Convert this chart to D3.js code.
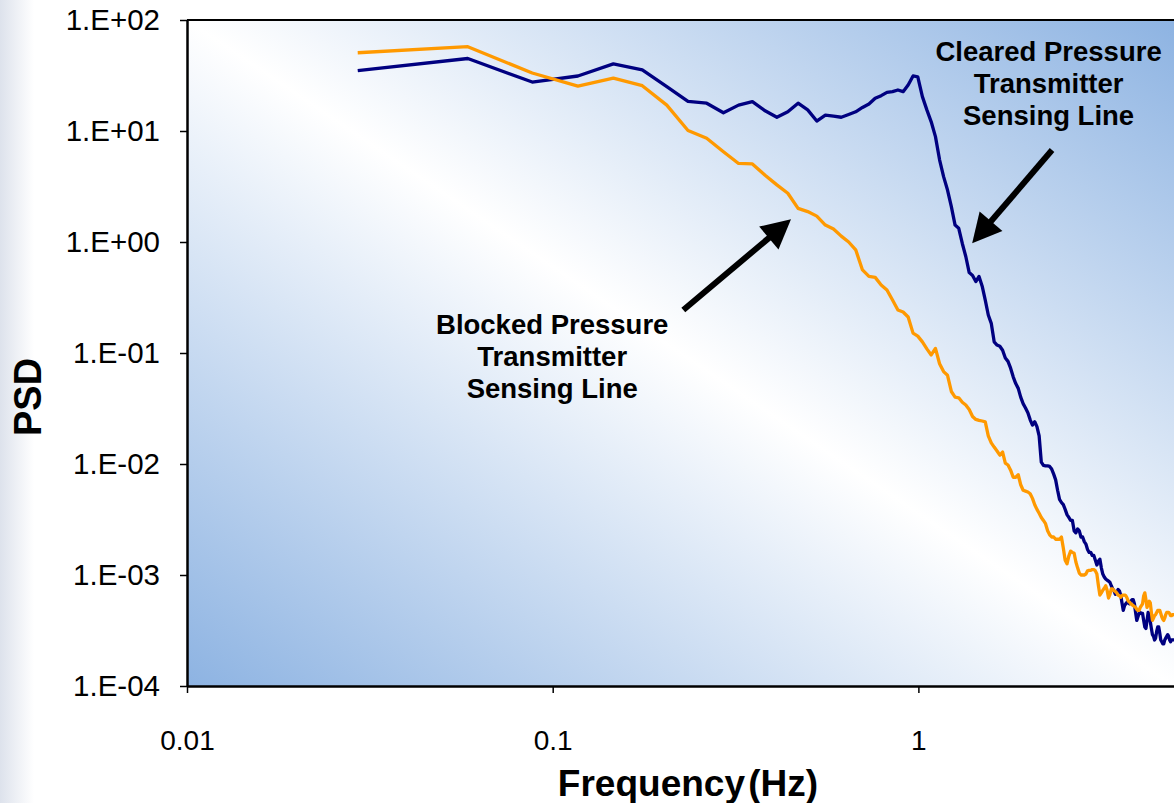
<!DOCTYPE html>
<html>
<head>
<meta charset="utf-8">
<script src="https://cdnjs.cloudflare.com/ajax/libs/d3/7.8.5/d3.min.js"></script>
<style>
  body{margin:0;background:#fff;}
  svg{display:block;font-family:"Liberation Sans",Arial,sans-serif;}
</style>
</head>
<body>
<svg id="chart" width="1174" height="803"></svg>
<script>
// frequency bin width of the PSD (Hz)
const df = 0.0293

// cleared line PSD, one value per bin (k = 1..171)
const cleared = [
  35,45,27.6,31.3,40.2,35.5,25.1,18.5,17.8,14.6,
  17.1,18.4,15.2,13.3,14.9,17.8,15.5,12.3,13.9,13.6,
  13.3,14.1,14.9,16.3,17.5,19.7,20.8,22.3,22.6,23.4,
  22.6,26.0,31.3,30.8,20.4,15.5,12.1,8.9,5.5,3.88,
  2.94,2.08,1.42,1.33,0.97,0.74,0.53,0.50,0.44,0.49,
  0.40,0.30,0.22,0.185,0.126,0.118,0.115,0.106,0.090,0.084,
  0.073,0.061,0.053,0.048,0.040,0.035,0.032,0.029,0.025,0.0224,
  0.024,0.0217,0.0179,0.0104,0.0097,0.0096,0.0096,0.0095,0.0090,0.0081,
  0.0072,0.0058,0.0048,0.0045,0.0043,0.0039,0.0035,0.0033,0.0031,0.0031,
  0.0025,0.0024,0.0026,0.0025,0.0022,0.0022,0.0020,0.0019,0.0017,0.0016,
  0.0016,0.0015,0.0015,0.00136,0.00123,0.00133,0.00139,0.00116,0.00102,0.00096,
  0.00092,0.00090,0.00088,0.00086,0.00080,0.00075,0.00072,0.00067,0.00070,0.00074,
  0.00072,0.00066,0.00056,0.00048,0.00053,0.00055,0.00057,0.00056,0.00055,0.00058,
  0.00060,0.00060,0.00055,0.00046,0.00039,0.00042,0.00045,0.00046,0.00045,0.00045,
  0.00039,0.00034,0.00033,0.00039,0.00046,0.00044,0.00038,0.00033,0.00029,0.00028,
  0.00026,0.00027,0.00031,0.00034,0.00034,0.00030,0.00026,0.00025,0.00024,0.00024,
  0.00026,0.00027,0.00028,0.00029,0.00028,0.00026,0.00025,0.00026,0.00026,0.00026,
  0.00026
]

// blocked line PSD
const blocked = [
  50.7,57.5,33.3,25.4,30.0,25.6,17.1,10.1,8.6,6.5,
  5.1,5.05,4.0,3.27,2.75,2.01,1.88,1.71,1.42,1.31,
  1.13,1.0,0.85,0.56,0.49,0.48,0.41,0.37,0.30,0.244,
  0.234,0.211,0.151,0.142,0.126,0.109,0.096,0.110,0.080,0.068,
  0.063,0.045,0.040,0.0395,0.036,0.034,0.031,0.0268,0.0252,0.0247,
  0.0244,0.0240,0.0179,0.0155,0.0142,0.0131,0.0120,0.0128,0.0102,0.0098,
  0.0088,0.0076,0.0076,0.0080,0.0065,0.0058,0.0057,0.0056,0.0054,0.0049,
  0.0043,0.0039,0.0036,0.0033,0.0031,0.0029,0.0025,0.0023,0.0022,0.0022,
  0.0021,0.0021,0.0021,0.0022,0.00175,0.00136,0.00126,0.00148,0.00164,0.0016,
  0.00157,0.00131,0.00116,0.00104,0.0010,0.0010,0.0010,0.00102,0.00109,0.0011,
  0.0011,0.00112,0.00112,0.00109,0.00102,0.00081,0.00066,0.00069,0.00073,0.00076,
  0.00080,0.00073,0.00062,0.00067,0.00075,0.00075,0.00072,0.00071,0.00069,0.00066,
  0.00065,0.00063,0.00065,0.00066,0.00066,0.00065,0.00062,0.00058,0.00057,0.00055,
  0.00054,0.00053,0.00052,0.00051,0.00049,0.00048,0.00048,0.00051,0.00053,0.00055,
  0.00065,0.00069,0.00060,0.00051,0.00054,0.00058,0.00056,0.00046,0.00039,0.00041,
  0.00043,0.00044,0.00046,0.00048,0.00048,0.00048,0.00045,0.00042,0.00040,0.00039,
  0.00041,0.00044,0.00046,0.00046,0.00046,0.00045,0.00043,0.00043,0.00044,0.00044,
  0.00043
]

const yTicks = [1e2,1e1,1e0,1e-1,1e-2,1e-3,1e-4]
const yTickLabels = ["1.E+02","1.E+01","1.E+00","1.E-01","1.E-02","1.E-03","1.E-04"]
const xTicks = [0.01,0.1,1]
const xTickLabels = ["0.01","0.1","1"]

// annotations: text anchor [freq, psd], arrow tail and tip in data space
const noteText = [
  ["Cleared Pressure","Transmitter","Sensing Line"],
  ["Blocked Pressure","Transmitter","Sensing Line"]
]
const noteAt = [[2.27,42.8],[0.0997,0.148]]
const arrowTail = [[2.32,6.74],[0.2276,0.244]]
const arrowTip = [[1.403,0.973],[0.4484,1.60]]

const W = 1174, H = 803
const plotLeft = 187, plotTop = 20, plotBottom = 686
const svg = d3.select("#chart")

const x = d3.scaleLog().domain([0.01,5]).range([plotLeft,W])
const y = d3.scaleLog().domain([1e-4,1e2]).range([plotBottom,plotTop])

const defs = svg.append("defs")
let bg = defs.append("linearGradient").attr("id","plotbg")
  .attr("x1",0).attr("y1",1).attr("x2",1).attr("y2",0)
bg.append("stop").attr("offset","0").attr("stop-color","#8db3e2")
bg.append("stop").attr("offset","0.5").attr("stop-color","#ffffff")
bg.append("stop").attr("offset","1").attr("stop-color","#8db3e2")

let edge = defs.append("linearGradient").attr("id","edge")
edge.append("stop").attr("offset","0").attr("stop-color","#dde2ec")
edge.append("stop").attr("offset","1").attr("stop-color","#ffffff")

defs.append("clipPath").attr("id","clip").append("rect")
  .attr("x",plotLeft).attr("y",plotTop).attr("width",W-plotLeft).attr("height",plotBottom-plotTop)

// slide edge on the left
svg.append("rect").attr("x",0).attr("y",0).attr("width",34).attr("height",H).attr("fill","url(#edge)")

svg.append("rect")
  .attr("x",plotLeft).attr("y",plotTop)
  .attr("width",W-plotLeft).attr("height",plotBottom-plotTop)
  .attr("fill","url(#plotbg)")

// top border
svg.append("line").attr("x1",plotLeft).attr("x2",W).attr("y1",plotTop).attr("y2",plotTop)
  .attr("stroke","#000").attr("stroke-width",2)

const line = d3.line()
  .x((d,i)=>x(df*(i+1)))
  .y(d=>y(d))

let plot = svg.append("g").attr("clip-path","url(#clip)")
plot.append("path").datum(cleared)
  .attr("d",line).attr("fill","none")
  .attr("stroke","#000080").attr("stroke-width",3.3).attr("stroke-linejoin","round")
plot.append("path").datum(blocked)
  .attr("d",line).attr("fill","none")
  .attr("stroke","#ff9900").attr("stroke-width",3.3).attr("stroke-linejoin","round")

// axes
let yAxis = svg.append("g").attr("transform","translate("+plotLeft+",0)")
  .call(d3.axisLeft(y).tickValues(yTicks).tickFormat((d,i)=>yTickLabels[i])
    .tickSize(7).tickSizeOuter(0).tickPadding(20))
let xAxis = svg.append("g").attr("transform","translate(0,"+plotBottom+")")
  .call(d3.axisBottom(x).tickValues(xTicks).tickFormat((d,i)=>xTickLabels[i])
    .tickSize(7).tickSizeOuter(0).tickPadding(37))

svg.selectAll(".domain").attr("stroke","#000").attr("stroke-width",2.5)
svg.selectAll(".tick line").attr("stroke","#000").attr("stroke-width",1.5)
svg.selectAll(".tick text")
  .attr("fill","#000")
  .style("font-size","28px")
  .style("font-family","'Liberation Sans',Arial,sans-serif")
yAxis.selectAll(".tick text").style("font-size","29.5px")

// axis titles
svg.append("text")
  .attr("transform","translate(41,397) rotate(-90)")
  .attr("text-anchor","middle")
  .style("font-size","38px").style("font-weight","bold")
  .text("PSD")

svg.append("text")
  .attr("x",688).attr("y",796)
  .attr("text-anchor","middle")
  .style("font-size","37px").style("font-weight","bold")
  .style("word-spacing","-7px")
  .text("Frequency (Hz)")

// annotations
noteText.forEach(function(lines,n){
  let t = svg.append("text")
    .attr("text-anchor","middle")
    .style("font-size","27.5px").style("font-weight","bold")
  lines.forEach(function(s,i){
    t.append("tspan")
      .attr("x",x(noteAt[n][0]))
      .attr("y",y(noteAt[n][1]) + i*32)
      .text(s)
  })

  let x0 = x(arrowTail[n][0]), y0 = y(arrowTail[n][1])
  let x1 = x(arrowTip[n][0]), y1 = y(arrowTip[n][1])
  let a = Math.atan2(y1-y0,x1-x0)
  let hl = 29, hw = 15
  let bx = x1 - hl*Math.cos(a), by = y1 - hl*Math.sin(a)
  svg.append("line")
    .attr("x1",x0).attr("y1",y0).attr("x2",bx+3*Math.cos(a)).attr("y2",by+3*Math.sin(a))
    .attr("stroke","#000").attr("stroke-width",6)
  svg.append("path")
    .attr("d","M"+x1+","+y1+
      "L"+(bx - hw*Math.sin(a))+","+(by + hw*Math.cos(a))+
      "L"+(bx + hw*Math.sin(a))+","+(by - hw*Math.cos(a))+"Z")
    .attr("fill","#000")
})
</script>
</body>
</html>
